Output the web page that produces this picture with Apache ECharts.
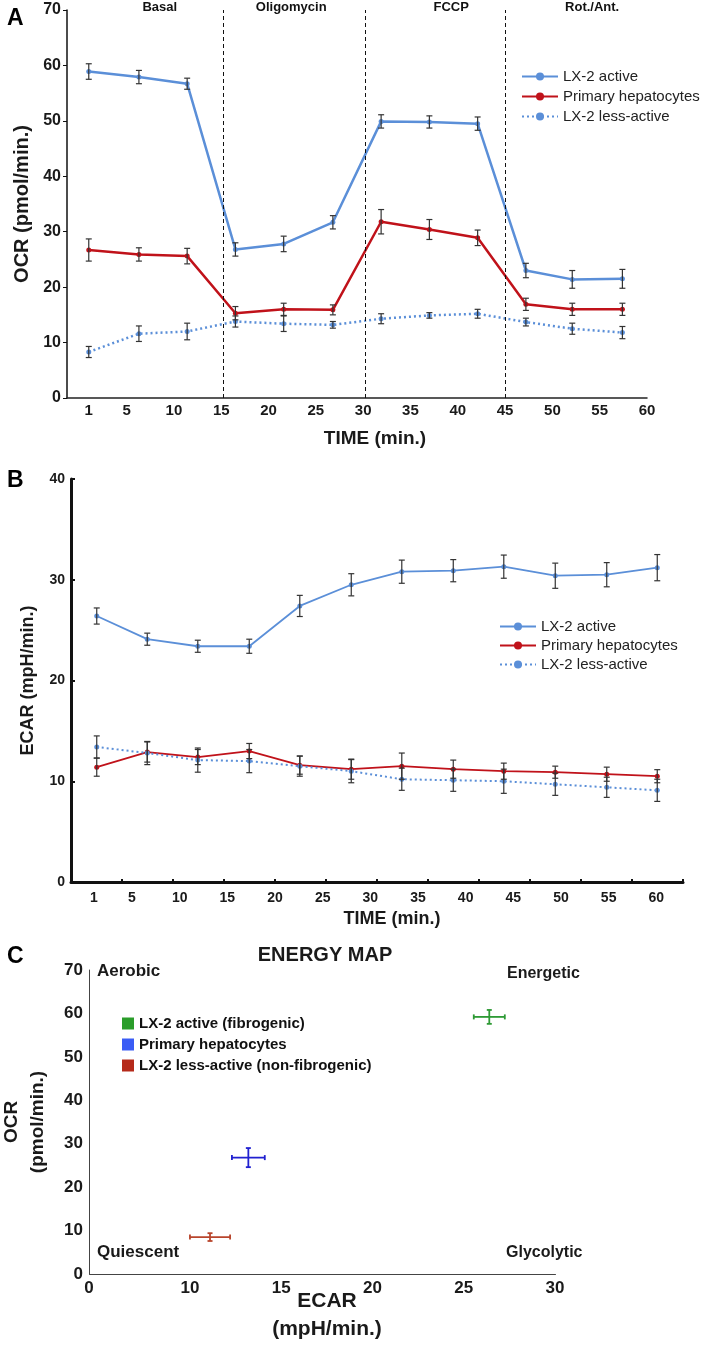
<!DOCTYPE html>
<html>
<head>
<meta charset="utf-8">
<title>OCR / ECAR / Energy map</title>
<script src="https://cdn.jsdelivr.net/npm/echarts@6/dist/echarts.min.js"></script>
<style>
html, body { margin: 0; padding: 0; background: #fff; }
#wrap { position: relative; width: 709px; height: 1359px; }
.panel { position: absolute; left: 0; width: 709px; }
#chartA { top: 0; height: 460px; }
#chartB { top: 460px; height: 480px; }
#chartC { top: 940px; height: 419px; }
</style>
</head>
<body>
<div id="wrap">
	<div id="chartA" class="panel"></div>
	<div id="chartB" class="panel"></div>
	<div id="chartC" class="panel"></div>
</div>
<script>
// ---- data: panel A (OCR) ----
var ocrTime = [1, 6.3, 11.4, 16.5, 21.6, 26.8, 31.9, 37.0, 42.1, 47.2, 52.1, 57.4];
var ocrActive = [58.9, 57.9, 56.7, 26.8, 27.8, 31.7, 49.9, 49.8, 49.5, 23.0, 21.4, 21.5];
var ocrActiveErr = [1.4, 1.2, 1.0, 1.2, 1.4, 1.2, 1.2, 1.1, 1.2, 1.3, 1.6, 1.7];
var ocrHep = [26.7, 25.9, 25.6, 15.3, 16.0, 15.9, 31.8, 30.4, 28.9, 16.9, 16.0, 16.0];
var ocrHepErr = [2.0, 1.2, 1.4, 1.2, 1.1, 0.9, 2.2, 1.8, 1.4, 1.1, 1.1, 1.1];
var ocrLess = [8.3, 11.6, 12.0, 13.8, 13.4, 13.2, 14.3, 14.9, 15.2, 13.7, 12.5, 11.8];
var ocrLessErr = [1.0, 1.4, 1.5, 1.0, 1.4, 0.6, 0.9, 0.5, 0.8, 0.7, 1.0, 1.1];
var injectTimes = [15.2, 30.2, 45];
var phaseNames = ['Basal', 'Oligomycin', 'FCCP', 'Rot./Ant.'];
var phaseMid = [8.5, 22.4, 39.3, 54.2];
var timeTicks = [1, 5, 10, 15, 20, 25, 30, 35, 40, 45, 50, 55, 60];

// ---- data: panel B (ECAR) ----
var ecarTime = [1.3, 6.6, 11.9, 17.3, 22.6, 28.0, 33.3, 38.7, 44.0, 49.4, 54.8, 60.1];
var ecarActive = [26.4, 24.1, 23.4, 23.4, 27.4, 29.5, 30.8, 30.9, 31.3, 30.4, 30.5, 31.2];
var ecarActiveErr = [0.8, 0.6, 0.6, 0.7, 1.05, 1.1, 1.15, 1.1, 1.15, 1.25, 1.2, 1.3];
var ecarHep = [11.4, 12.9, 12.4, 13.0, 11.6, 11.2, 11.5, 11.2, 11.0, 10.9, 10.7, 10.5];
var ecarHepErr = [0.9, 1.0, 0.75, 0.75, 0.9, 1.0, 1.3, 0.9, 0.8, 0.6, 0.7, 0.65];
var ecarLess = [13.4, 12.8, 12.1, 12.0, 11.5, 11.0, 10.2, 10.1, 10.0, 9.7, 9.4, 9.1];
var ecarLessErr = [1.1, 1.15, 1.2, 1.15, 1.0, 1.15, 1.1, 1.1, 1.2, 1.1, 1.0, 1.1];

// ---- data: panel C (energy map) ----
var mapNames = ['LX-2 active (fibrogenic)', 'Primary hepatocytes', 'LX-2 less-active (non-fibrogenic)'];
var mapEcar = [26.4, 13.2, 11.1];
var mapEcarErr = [0.85, 0.9, 1.1];
var mapOcr = [59.2, 26.8, 8.5];
var mapOcrErr = [1.6, 2.2, 0.9];
var mapTicks = [0, 10, 15, 20, 25, 30];

var lineNames = ['LX-2 active', 'Primary hepatocytes', 'LX-2 less-active'];

var FONT = '"Liberation Sans", Arial, Helvetica, sans-serif';
var BLUE = '#5b8fd8', RED = '#c0121a', INK = '#1a1a1a';

function pairs(xs, ys, es) {
	return xs.map(function (x, i) {
		return es ? [x, ys[i], es[i]] : [x, ys[i]];
	});
}

// vertical error bar with caps
function vBar(color, cap, width) {
	return function (params, api) {
		var x = api.value(0), y = api.value(1), e = api.value(2);
		var a = api.coord([x, y + e]), b = api.coord([x, y - e]);
		var st = { stroke: color, lineWidth: width };
		return {
			type: 'group',
			children: [
				{ type: 'line', shape: { x1: a[0], y1: a[1], x2: b[0], y2: b[1] }, style: st },
				{ type: 'line', shape: { x1: a[0] - cap, y1: a[1], x2: a[0] + cap, y2: a[1] }, style: st },
				{ type: 'line', shape: { x1: b[0] - cap, y1: b[1], x2: b[0] + cap, y2: b[1] }, style: st }
			]
		};
	};
}

function lineSeries(name, xs, ys, color, width, dotted) {
	return {
		name: name,
		type: 'line',
		data: pairs(xs, ys),
		symbol: 'circle',
		symbolSize: 5,
		itemStyle: { color: color },
		lineStyle: { color: color, width: width, type: dotted ? [2, 3] : 'solid' },
		z: 2
	};
}

function errSeries(xs, ys, es) {
	return {
		type: 'custom',
		renderItem: vBar('#333', 3, 1.2),
		data: pairs(xs, ys, es),
		encode: { x: 0, y: 1 },
		silent: true,
		z: 3
	};
}

function valueYAxis(max, name, nameGap, labelSize, lineWidth, tickInside, nameSize) {
	return {
		type: 'value', min: 0, max: max, interval: 10,
		name: name, nameLocation: 'middle', nameRotate: 90, nameGap: nameGap,
		nameTextStyle: { fontFamily: FONT, fontWeight: 'bold', fontSize: nameSize, color: INK },
		axisLine: { show: true, onZero: false, lineStyle: { color: '#111', width: lineWidth } },
		axisTick: { show: true, inside: tickInside, length: 4, lineStyle: { color: '#111', width: lineWidth > 2 ? 2 : 1 } },
		axisLabel: { fontFamily: FONT, fontWeight: 'bold', fontSize: labelSize, color: INK, margin: 6 },
		splitLine: { show: false }
	};
}

// ================= Panel A =================
var chartA = echarts.init(document.getElementById('chartA'));
var optionA = {
	animation: false,
	grid: { left: 67, top: 10, width: 580, height: 388, outerBoundsMode: 'none' },
	xAxis: {
		type: 'value', min: -1.3, max: 60,
		name: 'TIME (min.)', nameLocation: 'middle', nameGap: 31,
		nameTextStyle: { fontFamily: FONT, fontWeight: 'bold', fontSize: 19, color: INK, padding: [0, 0, 0, 36] },
		axisLine: { show: true, onZero: false, lineStyle: { color: '#222', width: 1.5 } },
		axisTick: { show: false },
		axisLabel: { customValues: timeTicks, fontFamily: FONT, fontWeight: 'bold', fontSize: 15, color: INK, margin: 5 },
		splitLine: { show: false }
	},
	yAxis: valueYAxis(70, 'OCR (pmol/min.)', 30, 16, 1.5, false, 20),
	legend: {
		orient: 'vertical', left: 516, top: 64,
		itemWidth: 36, itemHeight: 10, itemGap: 5,
		data: lineNames,
		textStyle: { fontFamily: FONT, fontSize: 15, color: '#222' }
	},
	series: [
		Object.assign(lineSeries(lineNames[0], ocrTime, ocrActive, BLUE, 2.5, false), {
			markLine: {
				silent: true, symbol: ['none', 'none'], label: { show: false },
				lineStyle: { color: '#111', type: [4, 3], width: 1 },
				data: injectTimes.map(function (t) { return { xAxis: t }; })
			}
		}),
		lineSeries(lineNames[1], ocrTime, ocrHep, RED, 2.5, false),
		lineSeries(lineNames[2], ocrTime, ocrLess, BLUE, 2.5, true),
		errSeries(ocrTime, ocrActive, ocrActiveErr),
		errSeries(ocrTime, ocrHep, ocrHepErr),
		errSeries(ocrTime, ocrLess, ocrLessErr)
	]
};
chartA.setOption(optionA);
// phase names above the plot, centred on their time within each phase
var phaseText = phaseNames.map(function (n, i) {
	var px = chartA.convertToPixel({ xAxisIndex: 0 }, phaseMid[i]);
	return { type: 'text', x: px, y: 7, style: { text: n, font: 'bold 13px ' + FONT, fill: '#111', align: 'center', verticalAlign: 'middle' } };
});
chartA.setOption({
	graphic: [
		{ type: 'text', x: 7, y: 19, style: { text: 'A', font: 'bold 23px ' + FONT, fill: '#000', verticalAlign: 'middle' } }
	].concat(phaseText)
});

// ================= Panel B =================
var ecarTickPos = [];
for (var i = 0; i < ecarTime.length - 1; i++) {
	ecarTickPos.push((ecarTime[i] + ecarTime[i + 1]) / 2);
}
ecarTickPos.push(62.8);

var chartB = echarts.init(document.getElementById('chartB'));
var optionB = {
	animation: false,
	grid: { left: 71, top: 19, width: 612, height: 403, outerBoundsMode: 'none' },
	xAxis: {
		type: 'value', min: -1.4, max: 62.8,
		name: 'TIME (min.)', nameLocation: 'middle', nameGap: 27,
		nameTextStyle: { fontFamily: FONT, fontWeight: 'bold', fontSize: 18, color: INK, padding: [0, 0, 0, 30] },
		axisLine: { show: true, onZero: false, lineStyle: { color: '#111', width: 3 } },
		axisTick: { show: true, inside: true, length: 3, customValues: ecarTickPos, lineStyle: { color: '#111', width: 2 } },
		axisLabel: { customValues: timeTicks, fontFamily: FONT, fontWeight: 'bold', fontSize: 14, color: INK, margin: 9 },
		splitLine: { show: false }
	},
	yAxis: valueYAxis(40, 'ECAR (mpH/min.)', 34, 14, 3, true, 18),
	legend: {
		orient: 'vertical', left: 494, top: 154,
		itemWidth: 36, itemHeight: 10, itemGap: 4,
		data: lineNames,
		textStyle: { fontFamily: FONT, fontSize: 15, color: '#222' }
	},
	graphic: [
		{ type: 'text', x: 7, y: 21, style: { text: 'B', font: 'bold 23px ' + FONT, fill: '#000', verticalAlign: 'middle' } }
	],
	series: [
		lineSeries(lineNames[0], ecarTime, ecarActive, BLUE, 1.8, false),
		lineSeries(lineNames[1], ecarTime, ecarHep, RED, 1.8, false),
		lineSeries(lineNames[2], ecarTime, ecarLess, BLUE, 2, true),
		errSeries(ecarTime, ecarActive, ecarActiveErr),
		errSeries(ecarTime, ecarHep, ecarHepErr),
		errSeries(ecarTime, ecarLess, ecarLessErr)
	]
};
chartB.setOption(optionB);

// ================= Panel C =================
var mapColors = ['#2e9a35', '#2020d0', '#b8452c'];
var mapLegendColors = ['#2a9d2a', '#3a5cf5', '#b52a1a'];

function crossItem(params, api) {
	var x = api.value(0), y = api.value(1), ex = api.value(2), ey = api.value(3);
	var l = api.coord([x - ex, y]), r = api.coord([x + ex, y]);
	var t = api.coord([x, y + ey]), b = api.coord([x, y - ey]);
	var st = { stroke: api.visual('color'), lineWidth: 1.8 };
	var cap = 2.5;
	return {
		type: 'group',
		children: [
			{ type: 'line', shape: { x1: l[0], y1: l[1], x2: r[0], y2: r[1] }, style: st },
			{ type: 'line', shape: { x1: t[0], y1: t[1], x2: b[0], y2: b[1] }, style: st },
			{ type: 'line', shape: { x1: l[0], y1: l[1] - cap, x2: l[0], y2: l[1] + cap }, style: st },
			{ type: 'line', shape: { x1: r[0], y1: r[1] - cap, x2: r[0], y2: r[1] + cap }, style: st },
			{ type: 'line', shape: { x1: t[0] - cap, y1: t[1], x2: t[0] + cap, y2: t[1] }, style: st },
			{ type: 'line', shape: { x1: b[0] - cap, y1: b[1], x2: b[0] + cap, y2: b[1] }, style: st }
		]
	};
}

var chartC = echarts.init(document.getElementById('chartC'));
var optionC = {
	animation: false,
	grid: { left: 89, top: 30, width: 466, height: 304, outerBoundsMode: 'none' },
	xAxis: {
		type: 'value', min: 0, max: 30,
		breaks: [{ start: 2, end: 6.47, gap: 0 }],
		breakArea: { show: false },
		name: 'ECAR\n(mpH/min.)', nameLocation: 'middle', nameGap: 13, nameMoveOverlap: false,
		nameTextStyle: { fontFamily: FONT, fontWeight: 'bold', fontSize: 21, lineHeight: 28, color: INK, padding: [0, 0, 0, 10] },
		axisLine: { show: true, onZero: false, lineStyle: { color: '#444', width: 1 } },
		axisTick: { show: false },
		axisLabel: { customValues: mapTicks, fontFamily: FONT, fontWeight: 'bold', fontSize: 17, color: INK, margin: 6 },
		splitLine: { show: false }
	},
	yAxis: {
		type: 'value', min: 0, max: 70, interval: 10,
		name: 'OCR\n(pmol/min.)', nameLocation: 'middle', nameRotate: 90, nameGap: 38, nameMoveOverlap: false,
		nameTextStyle: { fontFamily: FONT, fontWeight: 'bold', fontSize: 19, lineHeight: 26, color: INK },
		axisLine: { show: true, onZero: false, lineStyle: { color: '#444', width: 1 } },
		axisTick: { show: false },
		axisLabel: { fontFamily: FONT, fontWeight: 'bold', fontSize: 17, color: INK, margin: 6 },
		splitLine: { show: false }
	},
	legend: {
		orient: 'vertical', left: 117, top: 71,
		itemWidth: 12, itemHeight: 12, itemGap: 6, icon: 'rect',
		data: mapNames.map(function (n, i) { return { name: n, itemStyle: { color: mapLegendColors[i] } }; }),
		textStyle: { fontFamily: FONT, fontWeight: 'bold', fontSize: 15, color: '#111' }
	},
	graphic: [
		{ type: 'text', x: 7, y: 17, style: { text: 'C', font: 'bold 23px ' + FONT, fill: '#000', verticalAlign: 'middle' } },
		{ type: 'text', x: 325, y: 15, style: { text: 'ENERGY MAP', font: 'bold 20px ' + FONT, fill: INK, align: 'center', verticalAlign: 'middle' } },
		{ type: 'text', x: 97, y: 31, style: { text: 'Aerobic', font: 'bold 17px ' + FONT, fill: INK, verticalAlign: 'middle' } },
		{ type: 'text', x: 507, y: 34, style: { text: 'Energetic', font: 'bold 16px ' + FONT, fill: INK, verticalAlign: 'middle' } },
		{ type: 'text', x: 97, y: 312, style: { text: 'Quiescent', font: 'bold 17px ' + FONT, fill: INK, verticalAlign: 'middle' } },
		{ type: 'text', x: 506, y: 313, style: { text: 'Glycolytic', font: 'bold 16px ' + FONT, fill: INK, verticalAlign: 'middle' } }
	],
	series: mapNames.map(function (n, i) {
		return {
			name: n,
			type: 'custom',
			renderItem: crossItem,
			itemStyle: { color: mapColors[i] },
			encode: { x: 0, y: 1 },
			data: [[mapEcar[i], mapOcr[i], mapEcarErr[i], mapOcrErr[i]]]
		};
	})
};
chartC.setOption(optionC);
</script>
</body>
</html>
